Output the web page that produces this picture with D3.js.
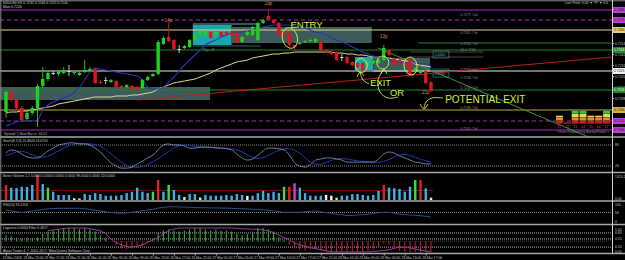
<!DOCTYPE html>
<html>
<head>
<meta charset="utf-8">
<script src="https://cdn.jsdelivr.net/npm/d3@7"></script>
<style>
  body { margin: 0; background: #000; }
  svg { display: block; font-family: "Liberation Sans", Arial, sans-serif; }
</style>
</head>
<body>
<div id="chart"></div>
<script>
// NZDUSD H1, 23 Mar - 28 Mar 2018, one value per bar
var tickLabels = ["23 Mar 2018","23 Mar 13:00","23 Mar 17:00","23 Mar 21:00","26 Mar 01:00","26 Mar 05:00",
  "26 Mar 09:00","26 Mar 13:00","26 Mar 17:00","26 Mar 21:00","27 Mar 01:00","27 Mar 05:00","27 Mar 09:00",
  "27 Mar 13:00","27 Mar 17:00","27 Mar 21:00","28 Mar 01:00","28 Mar 05:00","28 Mar 09:00","28 Mar 13:00","28 Mar 17:00"];

var open = [0.7184,0.7204,0.7196,0.7188,0.7177,0.7183,0.7188,0.7210,0.7217,0.7223,
  0.7222,0.7223,0.7225,0.7223,0.7221,0.7224,0.7225,0.7227,0.7214,0.7216,
  0.7214,0.7215,0.7210,0.7209,0.7210,0.7209,0.7208,0.7216,0.7220,0.7222,
  0.7252,0.7259,0.7256,0.7247,0.7248,0.7249,0.7256,0.7261,0.7260,0.7264,
  0.7261,0.7264,0.7264,0.7264,0.7263,0.7254,0.7261,0.7261,0.7256,0.7273,
  0.7280,0.7276,0.7273,0.7263,0.7263,0.7251,0.7252,0.7254,0.7255,0.7254,
  0.7254,0.7246,0.7244,0.7244,0.7239,0.7239,0.7234,0.7233,0.7233,0.7231,
  0.7233,0.7233,0.7236,0.7246,0.7238,0.7236,0.7234,0.7236,0.7224,0.7223,
  0.7225,0.7214];
var high = [0.7206,0.7206,0.7198,0.7190,0.7185,0.7190,0.7212,0.7229,0.7226,0.7225,
  0.7226,0.7229,0.7231,0.7225,0.7224,0.7236,0.7229,0.7228,0.7216,0.7219,
  0.7217,0.7216,0.7211,0.7212,0.7211,0.7210,0.7217,0.7220,0.7223,0.7256,
  0.7260,0.7274,0.7257,0.7251,0.7251,0.7257,0.7263,0.7266,0.7266,0.7265,
  0.7265,0.7265,0.7265,0.7265,0.7264,0.7260,0.7265,0.7270,0.7274,0.7277,
  0.7286,0.7277,0.7274,0.7264,0.7264,0.7252,0.7254,0.7256,0.7257,0.7258,
  0.7255,0.7247,0.7245,0.7245,0.7242,0.7240,0.7235,0.7234,0.7234,0.7235,
  0.7236,0.7237,0.7251,0.7247,0.7239,0.7237,0.7235,0.7237,0.7229,0.7226,
  0.7226,0.7215];
var low = [0.7178,0.7194,0.7186,0.7174,0.7175,0.7181,0.7169,0.7208,0.7215,0.7221,
  0.7220,0.7222,0.7220,0.7221,0.7220,0.7223,0.7224,0.7212,0.7212,0.7212,
  0.7213,0.7208,0.7207,0.7208,0.7206,0.7205,0.7207,0.7215,0.7219,0.7221,
  0.7251,0.7254,0.7246,0.7243,0.7247,0.7248,0.7255,0.7260,0.7259,0.7257,
  0.7260,0.7259,0.7261,0.7260,0.7252,0.7253,0.7260,0.7260,0.7255,0.7272,
  0.7276,0.7272,0.7260,0.7259,0.7249,0.7246,0.7251,0.7253,0.7254,0.7253,
  0.7245,0.7243,0.7241,0.7235,0.7235,0.7232,0.7230,0.7228,0.7225,0.7230,
  0.7232,0.7232,0.7235,0.7240,0.7230,0.7233,0.7230,0.7220,0.7223,0.7222,
  0.7212,0.7204];
var close = [0.7204,0.7196,0.7188,0.7176,0.7183,0.7188,0.7210,0.7217,0.7223,0.7223,
  0.7224,0.7226,0.7225,0.7224,0.7223,0.7226,0.7227,0.7213,0.7213,0.7216,
  0.7216,0.7209,0.7208,0.7211,0.7207,0.7206,0.7216,0.7219,0.7222,0.7254,
  0.7258,0.7255,0.7247,0.7247,0.7250,0.7256,0.7262,0.7265,0.7265,0.7258,
  0.7264,0.7260,0.7262,0.7261,0.7253,0.7259,0.7264,0.7269,0.7273,0.7276,
  0.7277,0.7273,0.7261,0.7261,0.7251,0.7249,0.7253,0.7255,0.7256,0.7257,
  0.7246,0.7244,0.7242,0.7236,0.7239,0.7233,0.7231,0.7229,0.7226,0.7234,
  0.7235,0.7236,0.7248,0.7241,0.7231,0.7234,0.7231,0.7221,0.7228,0.7225,
  0.7213,0.7205];

var maFast = [0.7170,0.7172,0.7174,0.7175,0.7175,0.7175,0.7176,0.7186,0.7191,0.7194,
  0.7196,0.7198,0.7200,0.7204,0.7209,0.7216,0.7224,0.7228,0.7227,0.7226,
  0.7225,0.7224,0.7223,0.7222,0.7221,0.7220,0.7216,0.7209,0.7207,0.7207,
  0.7209,0.7214,0.7219,0.7225,0.7231,0.7236,0.7241,0.7246,0.7251,0.7254,
  0.7256,0.7259,0.7261,0.7263,0.7264,0.7264,0.7265,0.7266,0.7268,0.7269,
  0.7270,0.7271,0.7271,0.7271,0.7271,0.7270,0.7269,0.7268,0.7266,0.7264,
  0.7263,0.7261,0.7258,0.7256,0.7254,0.7252,0.7249,0.7247,0.7244,0.7242,
  0.7240,0.7239,0.7238,0.7237,0.7235,0.7234,0.7234,0.7233,0.7233,0.7232,
  0.7232,0.7231];
var maSlow = [0.7183,0.7184,0.7184,0.7185,0.7185,0.7186,0.7187,0.7188,0.7189,0.7190,
  0.7192,0.7193,0.7194,0.7195,0.7196,0.7197,0.7198,0.7199,0.7199,0.7199,
  0.7199,0.7200,0.7200,0.7200,0.7201,0.7201,0.7202,0.7203,0.7204,0.7207,
  0.7209,0.7211,0.7213,0.7214,0.7215,0.7216,0.7217,0.7219,0.7221,0.7223,
  0.7226,0.7228,0.7230,0.7232,0.7234,0.7235,0.7236,0.7238,0.7239,0.7240,
  0.7241,0.7242,0.7242,0.7243,0.7243,0.7244,0.7244,0.7244,0.7244,0.7244,
  0.7244,0.7244,0.7244,0.7243,0.7243,0.7242,0.7242,0.7241,0.7241,0.7240,
  0.7239,0.7239,0.7238,0.7238,0.7237,0.7236,0.7235,0.7234,0.7232,0.7231,
  0.7230,0.7229];

var stochK = [57,66,63,54,46,43,43,51,63,71,80,83,86,86,83,83,80,71,60,43,
  29,20,14,14,17,26,34,43,51,66,80,83,80,80,77,71,71,74,74,74,
  71,71,69,66,54,43,37,40,51,63,71,71,69,66,51,29,20,17,23,37,
  40,43,43,40,37,31,31,31,31,31,31,40,54,60,57,49,43,37,31,29,26,26];
var stochD = [50,55,60,62,58,52,47,45,48,55,63,71,78,83,85,84,83,81,76,67,
  55,43,31,22,17,16,19,24,32,41,51,62,72,78,80,79,76,74,73,73,
  73,72,71,69,66,60,52,45,42,44,50,58,65,69,69,65,56,44,32,25,
  25,30,36,40,41,40,37,35,33,32,31,31,33,39,46,52,53,50,45,40,35,31];

var volume = [780,640,620,690,680,780,1300,830,640,430,260,260,260,90,80,310,260,360,310,225,
  225,225,260,360,430,640,430,360,430,1040,430,780,520,260,155,310,310,130,260,225,
  225,225,260,225,310,260,210,225,360,470,360,430,360,690,690,870,640,360,225,225,
  225,260,225,120,225,225,310,310,260,225,260,470,780,640,610,570,430,690,1040,1040,610,120];
var volType = "rbbbbbrbgbbbbwybbbbbbbbbbbbbgrbgbbybbybbbbbbbbwbbbbbbgrmbbbbbwwybbbbbbbbrbbbbbgrbw".split("");
var volAverage = 500;

var rsi = [62,58,54,51,54,58,63,66,69,71,72,72,72,72,72,70,66,62,58,54,
  50,47,46,48,51,55,60,63,67,73,77,80,80,79,78,77,76,75,75,74,
  74,73,73,72,71,70,69,67,65,64,62,59,55,51,51,51,51,54,56,58,
  54,49,46,42,38,34,34,37,39,41,44,49,51,51,46,41,39,37,35,33,30,26];

var laguerre = [0.7,0.65,0.6,0.55,0.6,0.55,0.6,0.75,0.85,0.9,
  0.95,1,1,1,0.95,1,0.95,0.85,0.7,0.55,
  0.45,0.3,0.15,0.1,0.15,0.2,0.3,0.4,0.55,0.8,
  0.9,0.95,0.9,0.85,0.9,0.95,1,1,0.95,0.9,
  0.95,0.9,0.9,0.85,0.75,0.7,0.75,0.85,1,1,
  0.95,0.85,0.6,0.5,0.3,0.15,0.1,0.05,0.1,0.15,
  0.05,0,0,0,0,0,0,0,0,0.05,
  0.1,0.2,0.35,0.3,0.15,0.05,0,0,0,0,0,0];
var lagFilter = [null,null,null,null,null,null,null,null,0.88,0.92,
  0.95,0.98,1,1,1,1,0.97,0.92,0.88,0.75,
  0.55,0.4,0.3,0.23,0.21,0.24,0.29,0.4,0.5,0.6,
  0.75,0.9,0.95,1,1,1,1,1,1,1,
  1,1,1,1,0.99,0.97,0.96,0.95,0.94,0.92,
  0.88,0.8,0.7,0.6,0.5,0.38,0.3,0.24,0.18,0.14,
  0.1,0.05,0.01,0,0,0,0,0,0,0,
  0.02,0.04,0.06,0.1,0.15,0.2,0.2,0.17,0.12,0.08,0.04,0];

// horizontal levels drawn on the chart
var levelPrice = [0.7286,0.7276,0.7266,0.7253,0.7246,0.7225,0.7206,0.7186,0.7175,0.7166];
var levelKind = ["purple","purpleDash","khaki","green","green","white","green","gold","purpleDash","purple"];
var levelFrom = [0,0,0,78.5,0,0,0,0,0,0];
var levelBox = [1,1,1,0,1,1,1,1,1,1];

// supply / demand boxes
var zoneFrom = [-1.2,35.6,43,66.5,70];
var zoneTo = [38.9,43,69.7,70,80.8];
var zoneTop = [0.7209,0.7271,0.7269,0.7239,0.7238];
var zoneBottom = [0.7196,0.7251,0.7253,0.7226,0.7224];
var zoneKind = ["grey","cyan","grey","cyan","grey"];

// trend lines: [bar, price] pairs
var redTrend = [[25,0.7196],[115.4,0.7239]];
var greenTrend = [[70.9,0.7248],[111,0.7159]];

var pipText = ["14p","19p","13p","21p"];
var pipBar = [31,50,72,80];
var pipPrice = [0.7274,0.7291,0.7258,0.7202];

var fiboText = ["0.7279 / 5d","0.7261 / 5d","0.7250 / 5d","50 0.7244","0.7224 / 5d","0.7216 / 5d","0.7206 / 5d","0.7186 / 5d","0.7165 / 5d"];
var fiboPrice = [0.7279,0.7261,0.7250,0.7244,0.7224,0.7216,0.7206,0.7186,0.7165];

var priceTicks = [0.7253,0.7242,0.7231,0.7220,0.7209,0.7198];

var profileHeight = [2.5,0.5,4,4,2.5,2.5,4];
var profileLabel = ["11","12","13","14","15","16","17"];

var W = 625, H = 260, axisX = 612;
var svg = d3.select("#chart").append("svg").attr("width", W).attr("height", H);
svg.append("rect").attr("width", W).attr("height", H).attr("fill", "#000");

var x = d3.scaleLinear().domain([0, 81]).range([6, 431]);
var y = d3.scaleLinear().domain([0.7160, 0.7295]).range([136, 1]);
var yStoch = d3.scaleLinear().domain([0, 100]).range([173, 138]);
var yVol = d3.scaleLinear().domain([0, 1300]).range([200, 175]);
var yRsi = d3.scaleLinear().domain([0, 100]).range([222, 203]);
var yLag = d3.scaleLinear().domain([0, 1]).range([252, 228]);

var defs = svg.append("defs");
defs.append("clipPath").attr("id", "clipMain").append("rect")
  .attr("x", 0).attr("y", 1.5).attr("width", axisX).attr("height", 136);

var tiny = 3.4;
function tinyText(g, tx, ty, s, fill, anchor) {
  return g.append("text").attr("x", tx).attr("y", ty).text(s)
    .attr("font-size", tiny).attr("fill", fill || "#c8c8c8")
    .attr("text-anchor", anchor || "start");
}

var main = svg.append("g").attr("clip-path", "url(#clipMain)");

// zones
var zoneColor = {grey: "#3e5b5b", cyan: "#1ba6ab"};
main.selectAll("rect.zone").data(zoneFrom).enter().append("rect")
  .attr("x", function(d) { return x(d); })
  .attr("width", function(d, i) { return x(zoneTo[i]) - x(d); })
  .attr("y", function(d, i) { return y(zoneTop[i]); })
  .attr("height", function(d, i) { return y(zoneBottom[i]) - y(zoneTop[i]); })
  .attr("fill", function(d, i) { return zoneColor[zoneKind[i]]; });
main.append("line").attr("x1", x(35.6)).attr("x2", x(48.5))
  .attr("y1", y(0.7272)).attr("y2", y(0.7272)).attr("stroke", "#7fd8dc").attr("stroke-width", 0.8);
main.append("line").attr("x1", x(35.6)).attr("x2", x(48.5))
  .attr("y1", y(0.7250)).attr("y2", y(0.7250)).attr("stroke", "#5aa8ac").attr("stroke-width", 0.6);
tinyText(main, x(37.5), y(0.7245), "15p + 8", "#5fc8cc");

// level lines
var levelStyle = {
  purple: {stroke: "#a52fc0", dash: null},
  purpleDash: {stroke: "#a52fc0", dash: "4,3"},
  khaki: {stroke: "#e2d48e", dash: null},
  green: {stroke: "#2a7f2a", dash: null},
  white: {stroke: "#e8e8e8", dash: null},
  gold: {stroke: "#c9a448", dash: null}
};
main.selectAll("line.level").data(levelPrice).enter().append("line")
  .attr("x1", function(d, i) { return levelFrom[i] ? x(levelFrom[i]) : 0; })
  .attr("x2", axisX)
  .attr("y1", function(d) { return y(d); })
  .attr("y2", function(d) { return y(d); })
  .attr("stroke", function(d, i) { return levelStyle[levelKind[i]].stroke; })
  .attr("stroke-dasharray", function(d, i) { return levelStyle[levelKind[i]].dash; })
  .attr("stroke-width", 1.1);

// fibo labels on the right
main.selectAll("text.fibo").data(fiboText).enter().append("text")
  .attr("x", x(86.6)).attr("y", function(d, i) { return y(fiboPrice[i]) - 0.8; })
  .text(function(d) { return d; })
  .attr("font-size", tiny).attr("fill", "#8a8a8a");
main.append("line").attr("x1", x(77)).attr("x2", x(91)).attr("y1", y(0.7244)).attr("y2", y(0.7244))
  .attr("stroke", "#777").attr("stroke-width", 0.6);
main.append("line").attr("x1", x(77)).attr("x2", x(91)).attr("y1", y(0.7239)).attr("y2", y(0.7239))
  .attr("stroke", "#777").attr("stroke-width", 0.6);
[[0.7245, 0.7238], [0.7227, 0.7219]].forEach(function(b) {
  main.append("rect").attr("x", x(81.4)).attr("width", x(84.4) - x(81.4))
    .attr("y", y(b[0])).attr("height", y(b[1]) - y(b[0]))
    .attr("fill", "none").attr("stroke", "#2b8b8f").attr("stroke-width", 0.7);
  tinyText(main, x(81.7), y(b[1]) - 2, "0.0000", "#5fb8bc");
});

// trend lines
var lineXY = d3.line().x(function(d) { return x(d[0]); }).y(function(d) { return y(d[1]); });
main.append("path").attr("d", lineXY(redTrend)).attr("fill", "none")
  .attr("stroke", "#b3241f").attr("stroke-width", 1);
main.append("path").attr("d", lineXY(greenTrend)).attr("fill", "none")
  .attr("stroke", "#3fa33f").attr("stroke-width", 0.9);

// moving averages
var maLine = d3.line().x(function(d, i) { return x(i); }).y(function(d) { return y(d); }).curve(d3.curveMonotoneX);
main.append("path").attr("d", maLine(maSlow)).attr("fill", "none").attr("stroke", "#e3dc8c").attr("stroke-width", 1);
main.append("path").attr("d", maLine(maFast)).attr("fill", "none").attr("stroke", "#2636b4").attr("stroke-width", 1.1);

// candles
function candleColor(i) {
  if (close[i] > open[i]) return "#1fd01f";
  if (close[i] < open[i]) return "#e0161a";
  return "#d0d0d0";
}
main.selectAll("line.wick").data(close).enter().append("line")
  .attr("x1", function(d, i) { return x(i); })
  .attr("x2", function(d, i) { return x(i); })
  .attr("y1", function(d, i) { return y(high[i]); })
  .attr("y2", function(d, i) { return y(low[i]); })
  .attr("stroke", function(d, i) { return candleColor(i); })
  .attr("stroke-width", 0.9);
main.selectAll("rect.body").data(close).enter().append("rect")
  .attr("x", function(d, i) { return x(i) - 1.7; })
  .attr("width", 3.4)
  .attr("y", function(d, i) { return y(Math.max(open[i], d)); })
  .attr("height", function(d, i) { return Math.max(1, Math.abs(y(open[i]) - y(d))); })
  .attr("fill", function(d, i) { return candleColor(i); });

// pip labels
main.selectAll("text.pip").data(pipText).enter().append("text")
  .attr("x", function(d, i) { return x(pipBar[i]); })
  .attr("y", function(d, i) { return y(pipPrice[i]); })
  .attr("text-anchor", "middle").attr("font-size", 4.6).attr("fill", "#d8875a")
  .text(function(d) { return d; });

// volume profile (bottom right)
var px = d3.scaleBand().domain(d3.range(profileHeight.length)).range([556, 610]).paddingInner(0.12);
var py = d3.scaleLinear().domain([0, 4]).range([124, 110.7]);
var profileColors = ["#c42020", "#e0902a", "#e8d84a", "#3cc83c"];
profileHeight.forEach(function(h, k) {
  for (var s = 0; s < 4 && s < h; s++) {
    var top = Math.min(h, s + 1);
    main.append("rect").attr("x", px(k)).attr("width", px.bandwidth())
      .attr("y", py(top)).attr("height", py(s) - py(top) - 0.3)
      .attr("fill", profileColors[s]);
  }
  tinyText(main, px(k) + px.bandwidth() / 2, 128, profileLabel[k], "#b06060", "middle");
});
tinyText(main, 609, 133.2, "< Free Powered by MarketProfile >", "#9a9a9a", "end");

// hand-drawn annotations
var hand = "#d6ef3a";
function ann(s, bar, price, size) {
  main.append("text").attr("x", x(bar)).attr("y", y(price)).text(s)
    .attr("font-size", size).attr("fill", hand);
}
ann("ENTRY", 54.2, 0.7268, 9.6);
ann("EXIT", 69.4, 0.7210, 9.4);
ann("OR", 73.2, 0.7200, 9.4);
ann("POTENTIAL EXIT", 83.7, 0.7193, 10);
var ellipses = [[54.1, 0.7258, 7.5, 10.5, -15], [67.7, 0.72305, 6, 7, -10], [71.8, 0.72335, 6, 6.5, 0], [77.1, 0.7230, 6.5, 9, -10]];
ellipses.forEach(function(e) {
  main.append("ellipse").attr("cx", 0).attr("cy", 0).attr("rx", e[2]).attr("ry", e[3])
    .attr("transform", "translate(" + x(e[0]) + "," + y(e[1]) + ") rotate(" + e[4] + ")")
    .attr("fill", "none").attr("stroke", hand).attr("stroke-width", 0.9);
});
var strokes = [
  [[67.47,0.7224],[68.04,0.7216],[69.18,0.7212]],
  [[66.9,0.7219],[67.47,0.7224],[68.23,0.7220]],
  [[72.04,0.7227],[70.9,0.7216],[71.28,0.7204],[72.8,0.7198],[74.71,0.7199]],
  [[71.47,0.7222],[72.04,0.7227],[72.61,0.7222]],
  [[83.29,0.7198],[81.19,0.7198],[80.05,0.7194],[79.67,0.7188]],
  [[78.9,0.7192],[79.67,0.7187],[80.43,0.7192]]
];
strokes.forEach(function(s) {
  main.append("path").attr("d", lineXY.curve(d3.curveCatmullRom)(s)).attr("fill", "none")
    .attr("stroke", hand).attr("stroke-width", 0.9);
});

tinyText(svg, 3, 4, "NZDUSD,H1  0.7232 0.7236 0.7225 0.7226", "#d0d0d0");
tinyText(svg, 3, 8, "Main 0.7226", "#d0d0d0");
tinyText(svg, 608, 4, "Last Profit: 0.00 \u25BC TP \u25BC 0:0", "#c0c0c0", "end");
tinyText(svg, 4, 134.8, "Spread: 1     Next Bar in: 16:12", "#b8b8b8");

// stochastic
var sub = svg.append("g");
var dotted = [yStoch(80), yStoch(20), yRsi(50), yLag(0.8), yLag(0.55), yLag(0.2)];
sub.selectAll("line.dot").data(dotted).enter().append("line")
  .attr("x1", 0).attr("x2", axisX).attr("y1", function(d) { return d; }).attr("y2", function(d) { return d; })
  .attr("stroke", "#8a8a8a").attr("stroke-width", 1.2).attr("stroke-dasharray", "1,1");
var stochLine = d3.line().x(function(d, i) { return x(i); }).y(function(d) { return yStoch(d); }).curve(d3.curveMonotoneX);
sub.append("path").attr("d", stochLine(stochD)).attr("fill", "none").attr("stroke", "#2538a8").attr("stroke-width", 1);
sub.append("path").attr("d", stochLine(stochK)).attr("fill", "none").attr("stroke", "#7f9cc2").attr("stroke-width", 0.8);
tinyText(sub, 3, 141.5, "Stoch(8,3,3) 21.8024 24.6750");

// volume
var volColor = {r: "#e0221f", b: "#3fb0e0", g: "#36e236", w: "#f2f2f2", y: "#f0ec7a", m: "#d23cd2"};
sub.append("line").attr("x1", 0).attr("x2", x(81) + 2).attr("y1", yVol(volAverage)).attr("y2", yVol(volAverage))
  .attr("stroke", "#7a1414").attr("stroke-width", 1);
sub.selectAll("rect.vol").data(volume).enter().append("rect")
  .attr("x", function(d, i) { return x(i) - 1.2; }).attr("width", 2.4)
  .attr("y", function(d) { return yVol(d); })
  .attr("height", function(d) { return yVol(0) - yVol(d); })
  .attr("fill", function(d, i) { return volColor[volType[i]]; });
tinyText(sub, 3, 176.5, "Better Volume 1.1 0.0000 0.0000 0.0000 0.0000 98.0000 0.0000 120.0000");

// RSI
var rsiLine = d3.line().x(function(d, i) { return x(i); }).y(function(d) { return yRsi(d); }).curve(d3.curveMonotoneX);
sub.append("path").attr("d", rsiLine(rsi)).attr("fill", "none").attr("stroke", "#2c4c8c").attr("stroke-width", 1);
tinyText(sub, 3, 205.5, "RSI(14) 33.2254");

// Laguerre
var lagBase = 0.45;
sub.append("line").attr("x1", 0).attr("x2", axisX).attr("y1", yLag(lagBase)).attr("y2", yLag(lagBase))
  .attr("stroke", "#555").attr("stroke-width", 0.6).attr("stroke-dasharray", "1,1");
sub.selectAll("line.lag").data(laguerre).enter().append("line")
  .attr("x1", function(d, i) { return x(i); }).attr("x2", function(d, i) { return x(i); })
  .attr("y1", yLag(lagBase)).attr("y2", function(d) { return yLag(d); })
  .attr("stroke", function(d) { return d >= lagBase ? "#35a835" : "#b82222"; })
  .attr("stroke-width", 1.1);
var lagLine = d3.line().defined(function(d) { return d !== null; })
  .x(function(d, i) { return x(i); }).y(function(d) { return yLag(d); }).curve(d3.curveMonotoneX);
sub.append("path").attr("d", lagLine(lagFilter)).attr("fill", "none").attr("stroke", "#9c3aa0").attr("stroke-width", 1);
tinyText(sub, 3, 228.5, "Laguerre 0.0000  Filter 0.4617");
tinyText(sub, 3, 252, "Alpari Trader 4, \u00A9 2001-2017, MetaQuotes Software Corp.");

// frames and separators
var seps = [137, 172.5, 201, 224.5, 253.5];
svg.selectAll("line.sep").data(seps).enter().append("line")
  .attr("x1", 0).attr("x2", W).attr("y1", function(d) { return d; }).attr("y2", function(d) { return d; })
  .attr("stroke", "#a8a8a8").attr("stroke-width", 1.4);
svg.append("line").attr("x1", 0).attr("x2", W).attr("y1", 0.8).attr("y2", 0.8).attr("stroke", "#8a8a8a");
svg.append("line").attr("x1", 0.8).attr("x2", 0.8).attr("y1", 0).attr("y2", 253.5).attr("stroke", "#8a8a8a");
svg.append("line").attr("x1", axisX + 0.5).attr("x2", axisX + 0.5).attr("y1", 0).attr("y2", 253.5).attr("stroke", "#d0d0d0");

// price axis
var fmt = d3.format(".4f");
var pAxis = svg.append("g").attr("transform", "translate(" + (axisX + 0.5) + ",0)")
  .call(d3.axisRight(y).tickValues(priceTicks).tickFormat(fmt).tickSize(1.5).tickPadding(1));
pAxis.select(".domain").remove();
pAxis.selectAll("text").attr("font-size", tiny).attr("fill", "#c0c0c0");
pAxis.selectAll("line").attr("stroke", "#c0c0c0");
var boxFill = {purple: "#c23ad6", purpleDash: "#c23ad6", khaki: "#e6cd6a", green: "#23862a", white: "#f0f0f0", gold: "#d8b040"};
levelPrice.forEach(function(p, i) {
  if (!levelBox[i]) return;
  svg.append("rect").attr("x", axisX + 1).attr("y", y(p) - 3).attr("width", W - axisX - 1).attr("height", 6)
    .attr("fill", boxFill[levelKind[i]]);
  tinyText(svg, axisX + 2, y(p) + 1.2, fmt(p), levelKind[i] === "green" ? "#eee" : "#222");
});
var subLabels = [[yStoch(80), "80"], [yStoch(20), "20"], [yVol(1300) + 2, "1313.2"], [yVol(0) - 1, "0.00"],
  [yRsi(100) + 1.5, "100"], [yRsi(50), "50"], [yRsi(0), "0"],
  [yLag(1) + 1.5, "1.00"], [yLag(0.8), "0.80"], [yLag(0.55), "0.55"], [yLag(0.2), "0.20"], [yLag(0) - 0.5, "0.00"]];
subLabels.forEach(function(s) { tinyText(svg, axisX + 3, s[0] + 1.2, s[1], "#c0c0c0"); });

// time axis
var tAxis = svg.append("g").attr("transform", "translate(0,253.5)")
  .call(d3.axisBottom(x).tickValues(d3.range(0, 81, 4)).tickFormat(function(d, i) { return tickLabels[i]; })
    .tickSize(2).tickPadding(1));
tAxis.select(".domain").remove();
tAxis.selectAll("line").attr("stroke", "#b0b0b0");
tAxis.selectAll("text").attr("font-size", tiny).attr("fill", "#c8c8c8")
  .attr("text-anchor", "start").attr("dx", -4).attr("y", 5.6).attr("dy", 0);
</script>
</body>
</html>
